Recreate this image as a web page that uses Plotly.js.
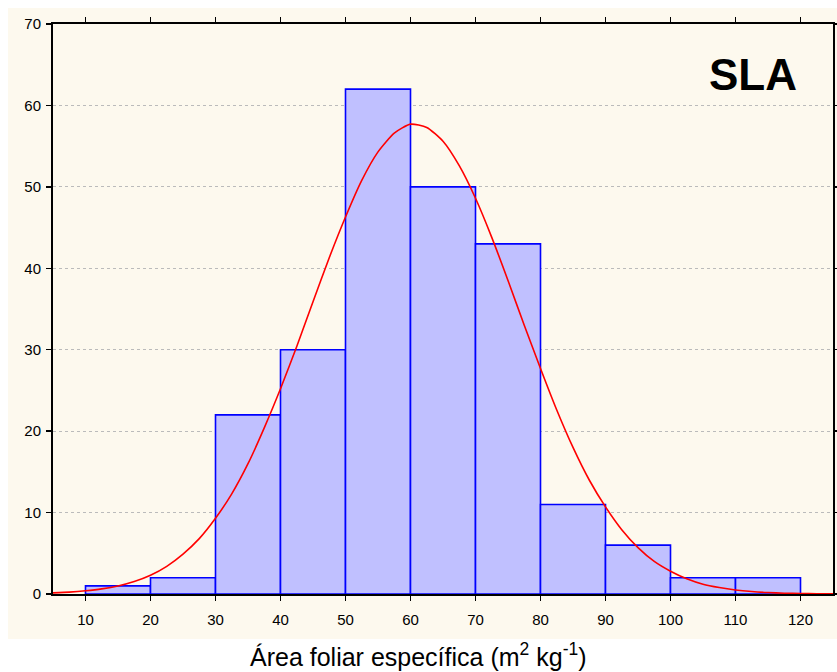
<!DOCTYPE html>
<html>
<head>
<meta charset="utf-8">
<script src="https://cdn.plot.ly/plotly-3.0.1.min.js"></script>
<style>html,body{margin:0;padding:0;background:#fff;}#chart{width:837px;height:672px;}</style>
</head>
<body>
<div id="chart"></div>
<script>
// Histogram bins (centers) and counts
const binCenters = [15, 25, 35, 45, 55, 65, 75, 85, 95, 105, 115];
const counts = [1, 2, 22, 30, 62, 50, 43, 11, 6, 2, 2];
// Fitted normal curve
const curveX = [5, 7.5, 10, 12.5, 15, 17.5, 20, 22.5, 25, 27.5, 30, 32.5, 35, 37.5, 40, 42.5, 45, 47.5, 50, 52.5, 55, 57.5, 60, 62.5, 65, 67.5, 70, 72.5, 75, 77.5, 80, 82.5, 85, 87.5, 90, 92.5, 95, 97.5, 100, 102.5, 105, 107.5, 110, 112.5, 115, 117.5, 120, 122.5, 125];
const curveY = [0.14, 0.23, 0.39, 0.63, 0.99, 1.53, 2.3, 3.4, 4.9, 6.8, 9.3, 12.3, 16.0, 20.4, 25.2, 30.4, 35.9, 41.3, 46.3, 50.8, 54.3, 56.6, 57.7, 57.3, 55.6, 52.6, 48.6, 43.8, 38.5, 33.0, 27.7, 22.6, 18.0, 14.0, 10.7, 7.9, 5.7, 4.0, 2.8, 1.87, 1.2, 0.79, 0.49, 0.30, 0.18, 0.10, 0.06, 0.03, 0.02];
const xTicks = [10, 20, 30, 40, 50, 60, 70, 80, 90, 100, 110, 120];
const yTicks = [0, 10, 20, 30, 40, 50, 60, 70];

const traces = [
  {
    type: 'bar', x: binCenters, y: counts, width: 10,
    marker: {color: '#C0C0FF', line: {color: '#0000FF', width: 1.6}},
    hoverinfo: 'x+y'
  },
  {
    type: 'scatter', mode: 'lines', x: curveX, y: curveY,
    line: {color: '#FF0000', width: 1.6, shape: 'spline', smoothing: 0.6}
  }
];

const axisCommon = {
  showline: true, linecolor: '#000', linewidth: 2, mirror: 'ticks',
  ticks: 'outside', ticklen: 5, tickwidth: 1.5, tickcolor: '#000',
  zeroline: false,
  tickfont: {family: 'Liberation Sans, Arial, sans-serif', size: 15, color: '#000'}
};

const layout = {
  width: 837, height: 672,
  margin: {l: 53, r: 4, t: 24, b: 78},
  paper_bgcolor: '#FFFFFF', plot_bgcolor: '#FFFFFF',
  showlegend: false, bargap: 0,
  xaxis: Object.assign({}, axisCommon, {
    range: [5, 125], tickvals: xTicks, showgrid: false, ticklabelstandoff: 6
  }),
  yaxis: Object.assign({}, axisCommon, {
    range: [0, 70], tickvals: yTicks, showgrid: true,
    gridcolor: '#BBBBBB', griddash: 'dot', gridwidth: 1, ticklabelstandoff: 2
  }),
  shapes: [{
    type: 'rect', xref: 'paper', yref: 'paper', layer: 'below',
    x0: (8 - 53) / 780, x1: (837 - 53) / 780, y0: (594 - 639) / 570, y1: (594 - 8) / 570,
    fillcolor: '#FDF9EE', line: {width: 0}
  }],
  annotations: [
    {
      text: 'SLA', xref: 'paper', yref: 'paper',
      x: (753 - 53) / 780, y: (594 - 74) / 570, xanchor: 'center', yanchor: 'middle',
      showarrow: false,
      font: {family: 'Liberation Sans, Arial, sans-serif', size: 44, color: '#000', weight: 'bold'}
    },
    {
      text: 'Área foliar específica (m<sup>2</sup> kg<sup>-1</sup>)', xref: 'paper', yref: 'paper',
      x: (418 - 53) / 780, y: (594 - 655) / 570, xanchor: 'center', yanchor: 'middle',
      showarrow: false,
      font: {family: 'Liberation Sans, Arial, sans-serif', size: 25, color: '#000'}
    }
  ]
};

Plotly.newPlot('chart', traces, layout, {displayModeBar: false, staticPlot: true});
</script>
</body>
</html>
